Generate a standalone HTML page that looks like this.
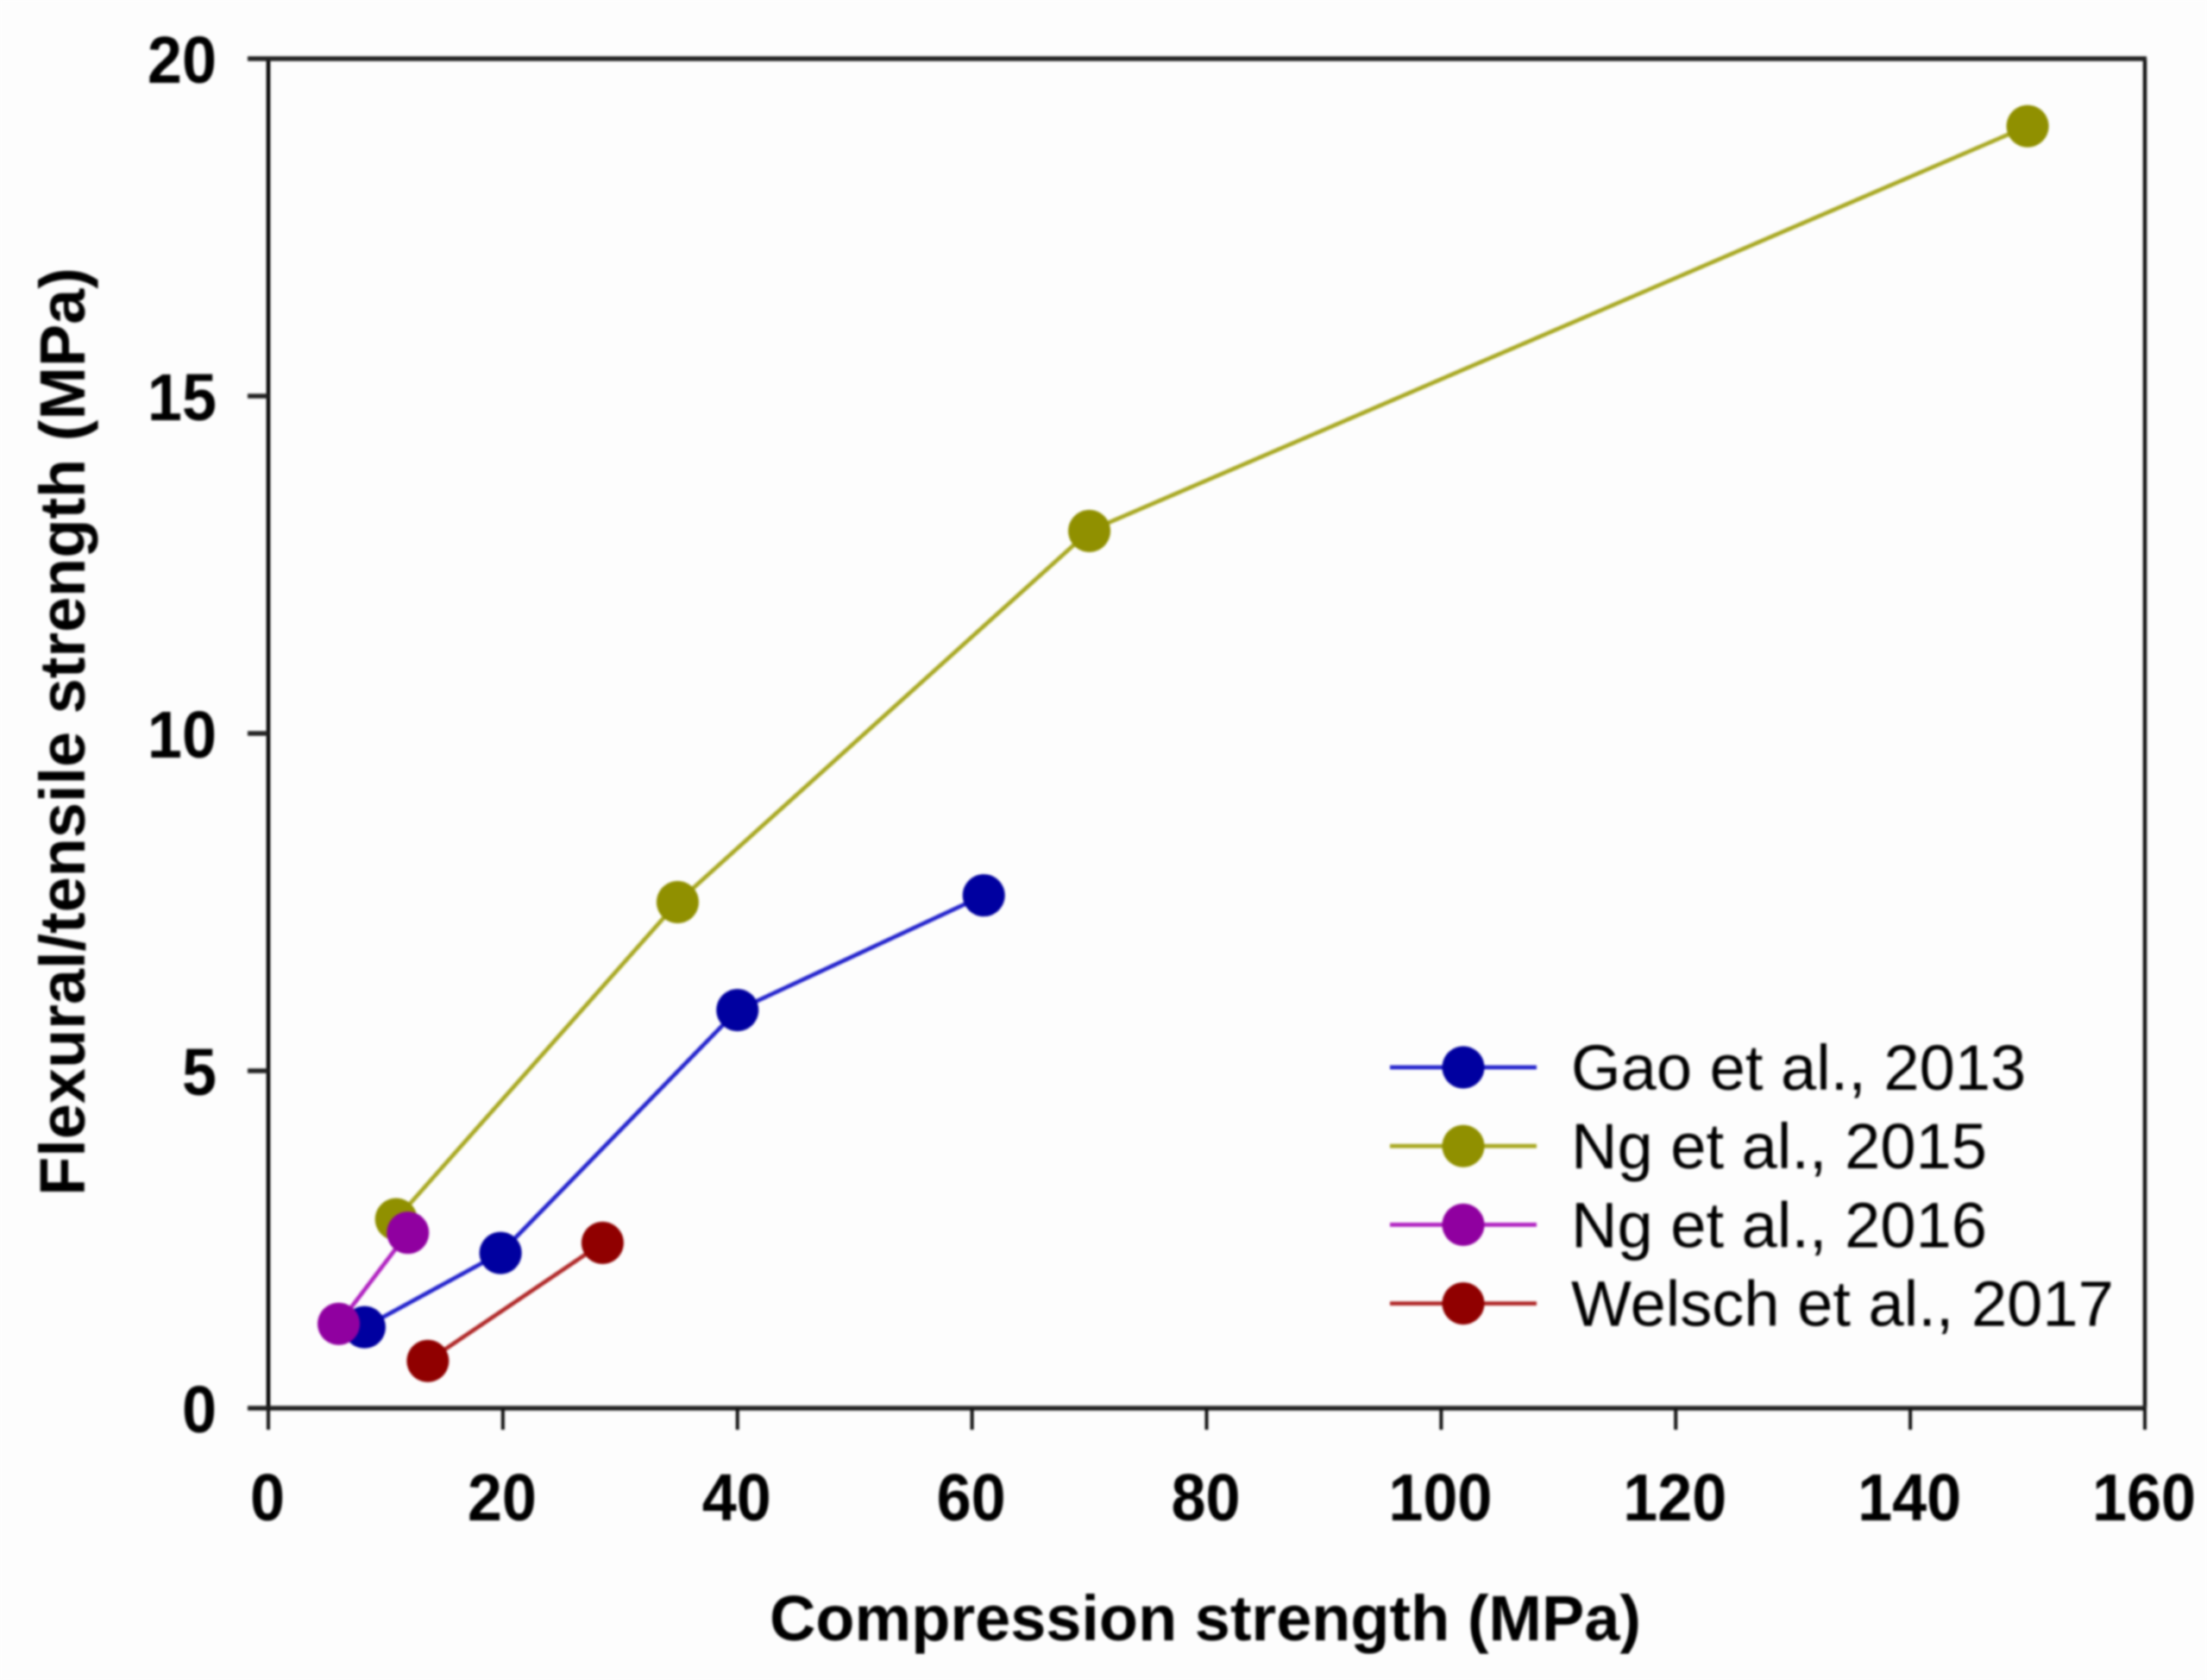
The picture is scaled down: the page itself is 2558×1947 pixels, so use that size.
<!DOCTYPE html>
<html lang="en">
<head>
<meta charset="utf-8">
<title>Flexural/tensile strength vs compression strength</title>
<style>
html,body{margin:0;padding:0;background:#fdfdfd;}
#chart{display:block;width:2558px;height:1947px;filter:blur(1.2px);}
text{font-family:"Liberation Sans",Arial,sans-serif;fill:#000;}
.tick{font-size:72px;font-weight:bold;}
.title{font-size:73.9px;font-weight:bold;}
.leg{font-size:74.1px;}
</style>
</head>
<body>
<svg id="chart" xmlns="http://www.w3.org/2000/svg" width="2558" height="1947" viewBox="0 0 2558 1947">
  <rect x="0" y="0" width="2558" height="1947" fill="#fdfdfd"/>
  <g id="axes"></g>
  <g id="series"></g>
  <g id="legend"></g>
  <text class="title" x="1397" y="1901" text-anchor="middle">Compression strength (MPa)</text>
  <text class="title" transform="translate(98,848) rotate(-90)" text-anchor="middle">Flexural/tensile strength (MPa)</text>
</svg>
<script>
var xTicks = [0, 20, 40, 60, 80, 100, 120, 140, 160];
var yTicks = [0, 5, 10, 15, 20];
var seriesNames = ["Gao et al., 2013", "Ng et al., 2015", "Ng et al., 2016", "Welsch et al., 2017"];
var gaoX = [8.2, 19.8, 40, 61];
var gaoY = [1.2, 2.3, 5.9, 7.6];
var ng2015X = [10.9, 34.9, 70, 150];
var ng2015Y = [2.8, 7.5, 13, 19];
var ng2016X = [6, 11.9];
var ng2016Y = [1.25, 2.6];
var welschX = [13.6, 28.5];
var welschY = [0.7, 2.45];
var allX = [gaoX, ng2015X, ng2016X, welschX];
var allY = [gaoY, ng2015Y, ng2016Y, welschY];
var lineColors = ["#2222cc", "#a8a822", "#b022c0", "#b02828"];
var markerColors = ["#0000a0", "#909000", "#9000a0", "#900000"];

var NS = "http://www.w3.org/2000/svg";
var plotLeft = 311, plotRight = 2486, plotTop = 68, plotBottom = 1632;
function sx(v){ return plotLeft + (v - 0) / 160 * (plotRight - plotLeft); }
function sy(v){ return plotBottom - (v - 0) / 20 * (plotBottom - plotTop); }
function make(tag, attrs, parent){
  var el = document.createElementNS(NS, tag);
  for (var k in attrs) el.setAttribute(k, attrs[k]);
  parent.appendChild(el);
  return el;
}
var axes = document.getElementById("axes");
var seriesG = document.getElementById("series");
var legend = document.getElementById("legend");

var el;
el = make("line", {x1: plotLeft, y1: plotTop, x2: plotLeft, y2: plotBottom, stroke: "#000", "stroke-width": 4.5}, axes);


el = make("line", {x1: plotRight, y1: plotTop, x2: plotRight, y2: plotBottom, stroke: "#111", "stroke-width": 4.5}, axes);


el = make("line", {x1: plotLeft, y1: plotTop, x2: plotRight + 2, y2: plotTop, stroke: "#222", "stroke-width": 5.5}, axes);


el = make("line", {x1: plotLeft, y1: plotBottom, x2: plotRight + 2, y2: plotBottom, stroke: "#222", "stroke-width": 5.5}, axes);



xTicks.forEach(function(t){
  var m = make("line", {x1: sx(t), y1: plotBottom, x2: sx(t), y2: plotBottom + 25, stroke: "#111", "stroke-width": 4}, axes);
  
  
  var l = make("text", {transform: "translate(" + (sx(t) - 1) + ",1762) scale(1,1.07)", "text-anchor": "middle", "class": "tick"}, axes);
  l.textContent = String(t);
  
  
});
yTicks.forEach(function(t){
  var m = make("line", {x1: plotLeft - 24, y1: sy(t), x2: plotLeft, y2: sy(t), stroke: "#222", "stroke-width": 5.5}, axes);
  
  
  var l = make("text", {transform: "translate(251," + (sy(t) + 28) + ") scale(1,1.07)", "text-anchor": "end", "class": "tick"}, axes);
  l.textContent = String(t);
  
  
});

seriesNames.forEach(function(name, i){
  var g = make("g", {}, seriesG);
  
  
  var pts = allX[i].map(function(x, j){ return sx(x) + "," + sy(allY[i][j]); }).join(" ");
  var pl = make("polyline", {points: pts, fill: "none", stroke: lineColors[i], "stroke-width": 4.8}, g);
  
  
  allX[i].forEach(function(x, j){
    var c = make("circle", {cx: sx(x), cy: sy(allY[i][j]), r: 24.5, fill: markerColors[i]}, g);
    
    
  });

  var rowY = 1237 + i * 91.2;
  var ll = make("line", {x1: 1611, y1: rowY, x2: 1781, y2: rowY, stroke: lineColors[i], "stroke-width": 4.8}, legend);
  
  
  var lc = make("circle", {cx: 1696, cy: rowY, r: 24.5, fill: markerColors[i]}, legend);
  
  
  var lt = make("text", {x: 1821, y: rowY + 26, "class": "leg"}, legend);
  lt.textContent = name;
  
  
});
</script>
</body>
</html>
